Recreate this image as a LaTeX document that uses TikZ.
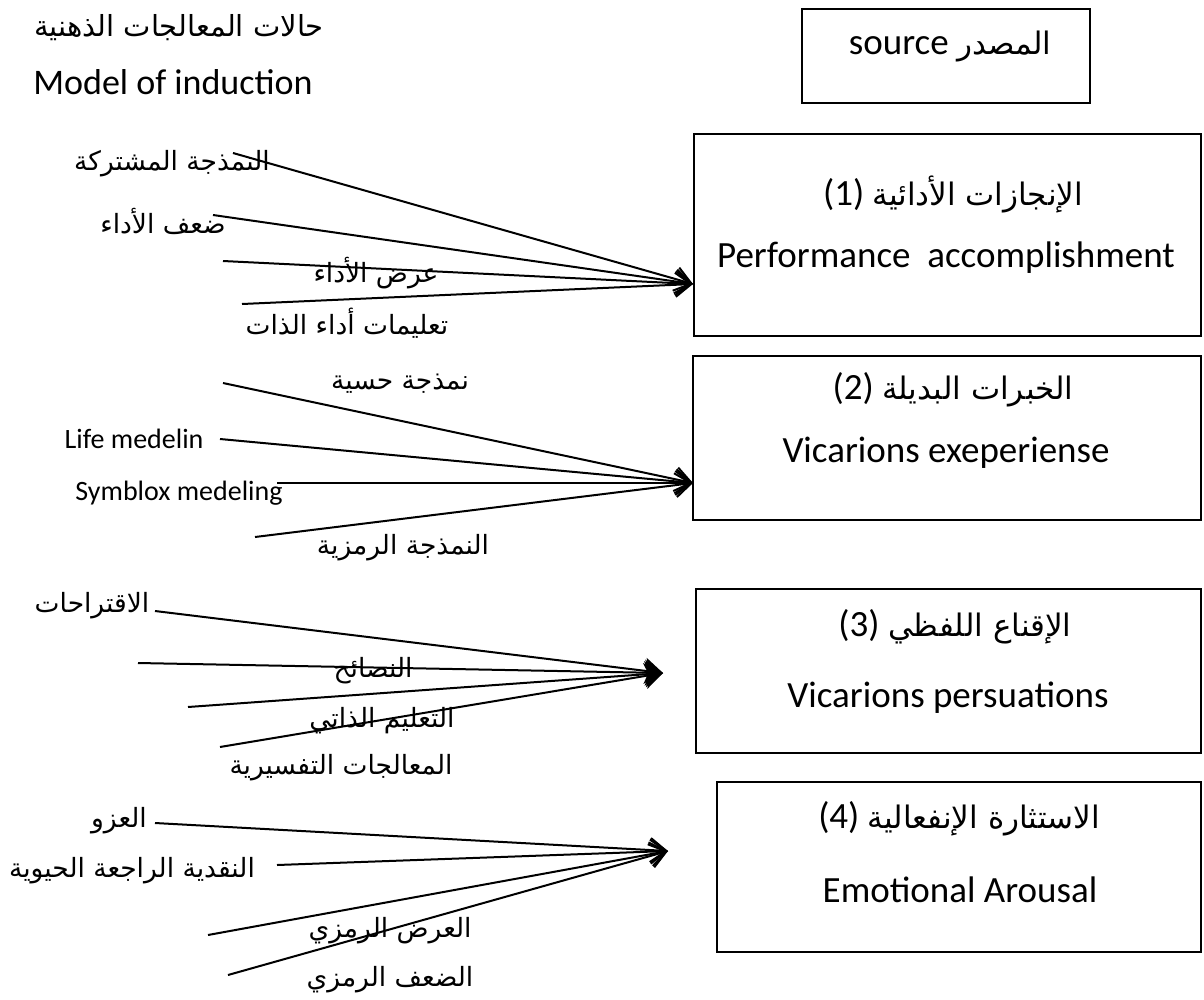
\documentclass[tikz,border=0pt]{standalone}
\usepackage{fontspec}
\setmainfont{Carlito}
\newfontfamily\arabicfont[Script=Arabic]{DejaVu Sans}
\TeXXeTstate=1
\usetikzlibrary{arrows.meta}
\newcommand{\artext}[1]{{\arabicfont\beginR #1\endR}}
\newcommand{\arbox}[1]{{\fontsize{31}{36}\selectfont\arabicfont\beginR #1\endR}}
\tikzset{
  box/.style={draw, line width=2pt, inner sep=0pt, outer sep=0pt},
  boxtext/.style={anchor=base, inner sep=0pt, font=\fontsize{37}{40}\selectfont},
  lbl/.style={inner sep=0pt, font=\fontsize{26.5}{30}\selectfont},
  lbllat/.style={anchor=base, inner sep=0pt, font=\fontsize{28}{32}\selectfont},
  link/.style={line width=2pt, -{Straight Barb[length=16pt,width=24pt]}},
  linkfill/.style={line width=2pt, -{Stealth[length=18pt,width=26pt,inset=4pt]}}
}
\begin{document}
\begin{tikzpicture}[x=1pt,y=-1pt]
\useasboundingbox (0,0) rectangle (1204,999);
% title
\node [inner sep=0pt, font=\fontsize{29}{34}\selectfont] (titlear) at (179,28) {\artext{حالات المعالجات الذهنية}};
\node [anchor=base, inner sep=0pt, font=\fontsize{36}{40}\selectfont] (titleen) at (173,94) {Model of induction};
% boxes on the right
\node [box, minimum width=288, minimum height=94] (src) at (946,56) {};
\node [boxtext] (srctext) at (950,54) {source \arbox{المصدر}};
\node [box, minimum width=507, minimum height=202] (perf) at (947.5,235) {};
\node [boxtext] (perfar) at (953,205) {(1) \arbox{الإنجازات الأدائية}};
\node [boxtext] (perfen) at (946,267) {Performance \ accomplishment};
\node [box, minimum width=508, minimum height=164] (vica) at (947,438) {};
\node [boxtext] (vicaar) at (953,399) {(2) \arbox{الخبرات البديلة}};
\node [boxtext] (vicaen) at (946,462) {Vicarions exeperiense};
\node [box, minimum width=505, minimum height=164] (pers) at (948.5,671) {};
\node [boxtext] (persar) at (955,636) {(3) \arbox{الإقناع اللفظي}};
\node [boxtext] (persen) at (948,707) {Vicarions persuations};
\node [box, minimum width=484, minimum height=170] (emot) at (959,867) {};
\node [boxtext] (emotar) at (959,828) {(4) \arbox{الاستثارة الإنفعالية}};
\node [boxtext] (emoten) at (960,902) {Emotional Arousal};
% labels on the left
\node [lbl] (coop) at (172,164) {\artext{النمذجة المشتركة}};
\node [lbl] (weak) at (163,221) {\artext{ضعف الأداء}};
\node [lbl] (show) at (376,273) {\artext{عرض الأداء}};
\node [lbl] (self) at (347,323) {\artext{تعليمات أداء الذات}};
\node [lbl] (sense) at (400,384) {\artext{نمذجة حسية}};
\node [lbllat] (life) at (134,448) {Life medelin};
\node [lbllat] (symb) at (179,500) {Symblox medeling};
\node [lbl] (symbar) at (403,548) {\artext{النمذجة الرمزية}};
\node [lbl] (sugg) at (92,606) {\artext{الاقتراحات}};
\node [lbl] (advi) at (373,671) {\artext{النصائح}};
\node [lbl] (teach) at (382,721) {\artext{التعليم الذاتي}};
\node [lbl] (interp) at (341,768) {\artext{المعالجات التفسيرية}};
\node [lbl] (attr) at (119,821) {\artext{العزو}};
\node [lbl] (feed) at (132,871) {\artext{النقدية الراجعة الحيوية}};
\node [lbl] (symshow) at (390,931) {\artext{العرض الرمزي}};
\node [lbl] (symweak) at (390,980) {\artext{الضعف الرمزي}};
% line ends
\coordinate (t1) at (693,284);
\coordinate (t2) at (693,483);
\coordinate (t3) at (663,673);
\coordinate (t4) at (668,851);
\coordinate (s1a) at (233,153);
\coordinate (s1b) at (213,215);
\coordinate (s1c) at (223,261);
\coordinate (s1d) at (242,304);
\coordinate (s2a) at (223,383);
\coordinate (s2b) at (220,439);
\coordinate (s2c) at (277,483);
\coordinate (s2d) at (255,537);
\coordinate (s3a) at (155,611);
\coordinate (s3b) at (138,663);
\coordinate (s3c) at (188,707);
\coordinate (s3d) at (220,747);
\coordinate (s4a) at (155,823);
\coordinate (s4b) at (277,865);
\coordinate (s4c) at (208,935);
\coordinate (s4d) at (228,975);
% arrows
\draw[link] (s1a) -- (t1);
\draw[link] (s1b) -- (t1);
\draw[link] (s1c) -- (t1);
\draw[link] (s1d) -- (t1);
\draw[link] (s2a) -- (t2);
\draw[link] (s2b) -- (t2);
\draw[link] (s2c) -- (t2);
\draw[link] (s2d) -- (t2);
\draw[linkfill] (s3a) -- (t3);
\draw[linkfill] (s3b) -- (t3);
\draw[linkfill] (s3c) -- (t3);
\draw[linkfill] (s3d) -- (t3);
\draw[link] (s4a) -- (t4);
\draw[link] (s4b) -- (t4);
\draw[link] (s4c) -- (t4);
\draw[link] (s4d) -- (t4);
\end{tikzpicture}
\end{document}
